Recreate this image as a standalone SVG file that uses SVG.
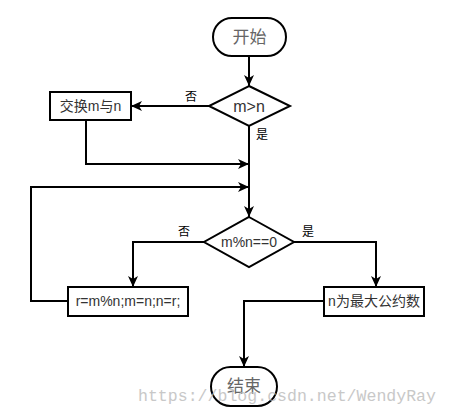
<svg xmlns="http://www.w3.org/2000/svg" width="449" height="417" viewBox="0 0 449 417">
<style>
.shape{fill:#fff;stroke:#000;stroke-width:2}
.conn{fill:none;stroke:#000;stroke-width:2}
.t{font-family:"Liberation Sans","Noto Sans CJK SC",sans-serif;text-anchor:middle;fill:#333}
.term{font-size:17px;fill:#666}
.box{font-size:14px}
.lbl{font-family:"Liberation Sans","Noto Sans CJK SC",sans-serif;font-size:12px;text-anchor:middle;fill:#000}
.wm{font-family:"Liberation Mono",monospace;font-size:16.5px;fill:#bbb;opacity:0.8}
</style>
<defs>
<marker id="arr" markerUnits="userSpaceOnUse" markerWidth="14" markerHeight="12" refX="11" refY="5" orient="auto">
<path d="M0,0 L11,5 L0,10 L3,5 z" fill="#000"/>
</marker>
</defs>
<g id="connectors">
<path class="conn" d="M249,57 V86" marker-end="url(#arr)"/>
<path class="conn" d="M209,106 H131" marker-end="url(#arr)"/>
<path class="conn" d="M86,120 V164 H249" marker-end="url(#arr)"/>
<path class="conn" d="M249,126 V217" marker-end="url(#arr)"/>
<path class="conn" d="M68,301 H31 V187 H249" marker-end="url(#arr)"/>
<path class="conn" d="M204,242 H133 V287" marker-end="url(#arr)"/>
<path class="conn" d="M294,242 H376 V287" marker-end="url(#arr)"/>
<path class="conn" d="M324,301 H244 V367" marker-end="url(#arr)"/>
<text class="lbl" x="191" y="101">否</text>
<text class="lbl" x="262" y="139">是</text>
<text class="lbl" x="184" y="236">否</text>
<text class="lbl" x="308" y="236">是</text>
</g>
<g id="start">
<rect class="shape" x="213" y="18" width="73" height="38" rx="19"/>
<text class="t term" x="249.5" y="43">开始</text>
</g>
<g id="cond1">
<polygon class="shape" points="249,86 290,106 249,126 209,106"/>
<text class="t" x="249" y="112" font-size="16">m&gt;n</text>
</g>
<g id="swap">
<rect class="shape" x="50" y="92" width="81" height="28"/>
<text class="t box" x="90.5" y="111">交换m与n</text>
</g>
<g id="cond2">
<polygon class="shape" points="249,217 294,242 249,267 204,242"/>
<text class="t box" x="249" y="247">m%n==0</text>
</g>
<g id="update">
<rect class="shape" x="68" y="287" width="120" height="29"/>
<text class="t box" x="128" y="306">r=m%n;m=n;n=r;</text>
</g>
<g id="result">
<rect class="shape" x="324" y="287" width="100" height="29"/>
<text class="t box" x="374" y="306">n为最大公约数</text>
</g>
<g id="end">
<rect class="shape" x="211" y="367" width="66" height="39" rx="19.5"/>
<text class="t term" x="244" y="392">结束</text>
</g>
<text class="wm" x="138" y="401" textLength="298" lengthAdjust="spacingAndGlyphs">https://blog.csdn.net/WendyRay</text>
</svg>
